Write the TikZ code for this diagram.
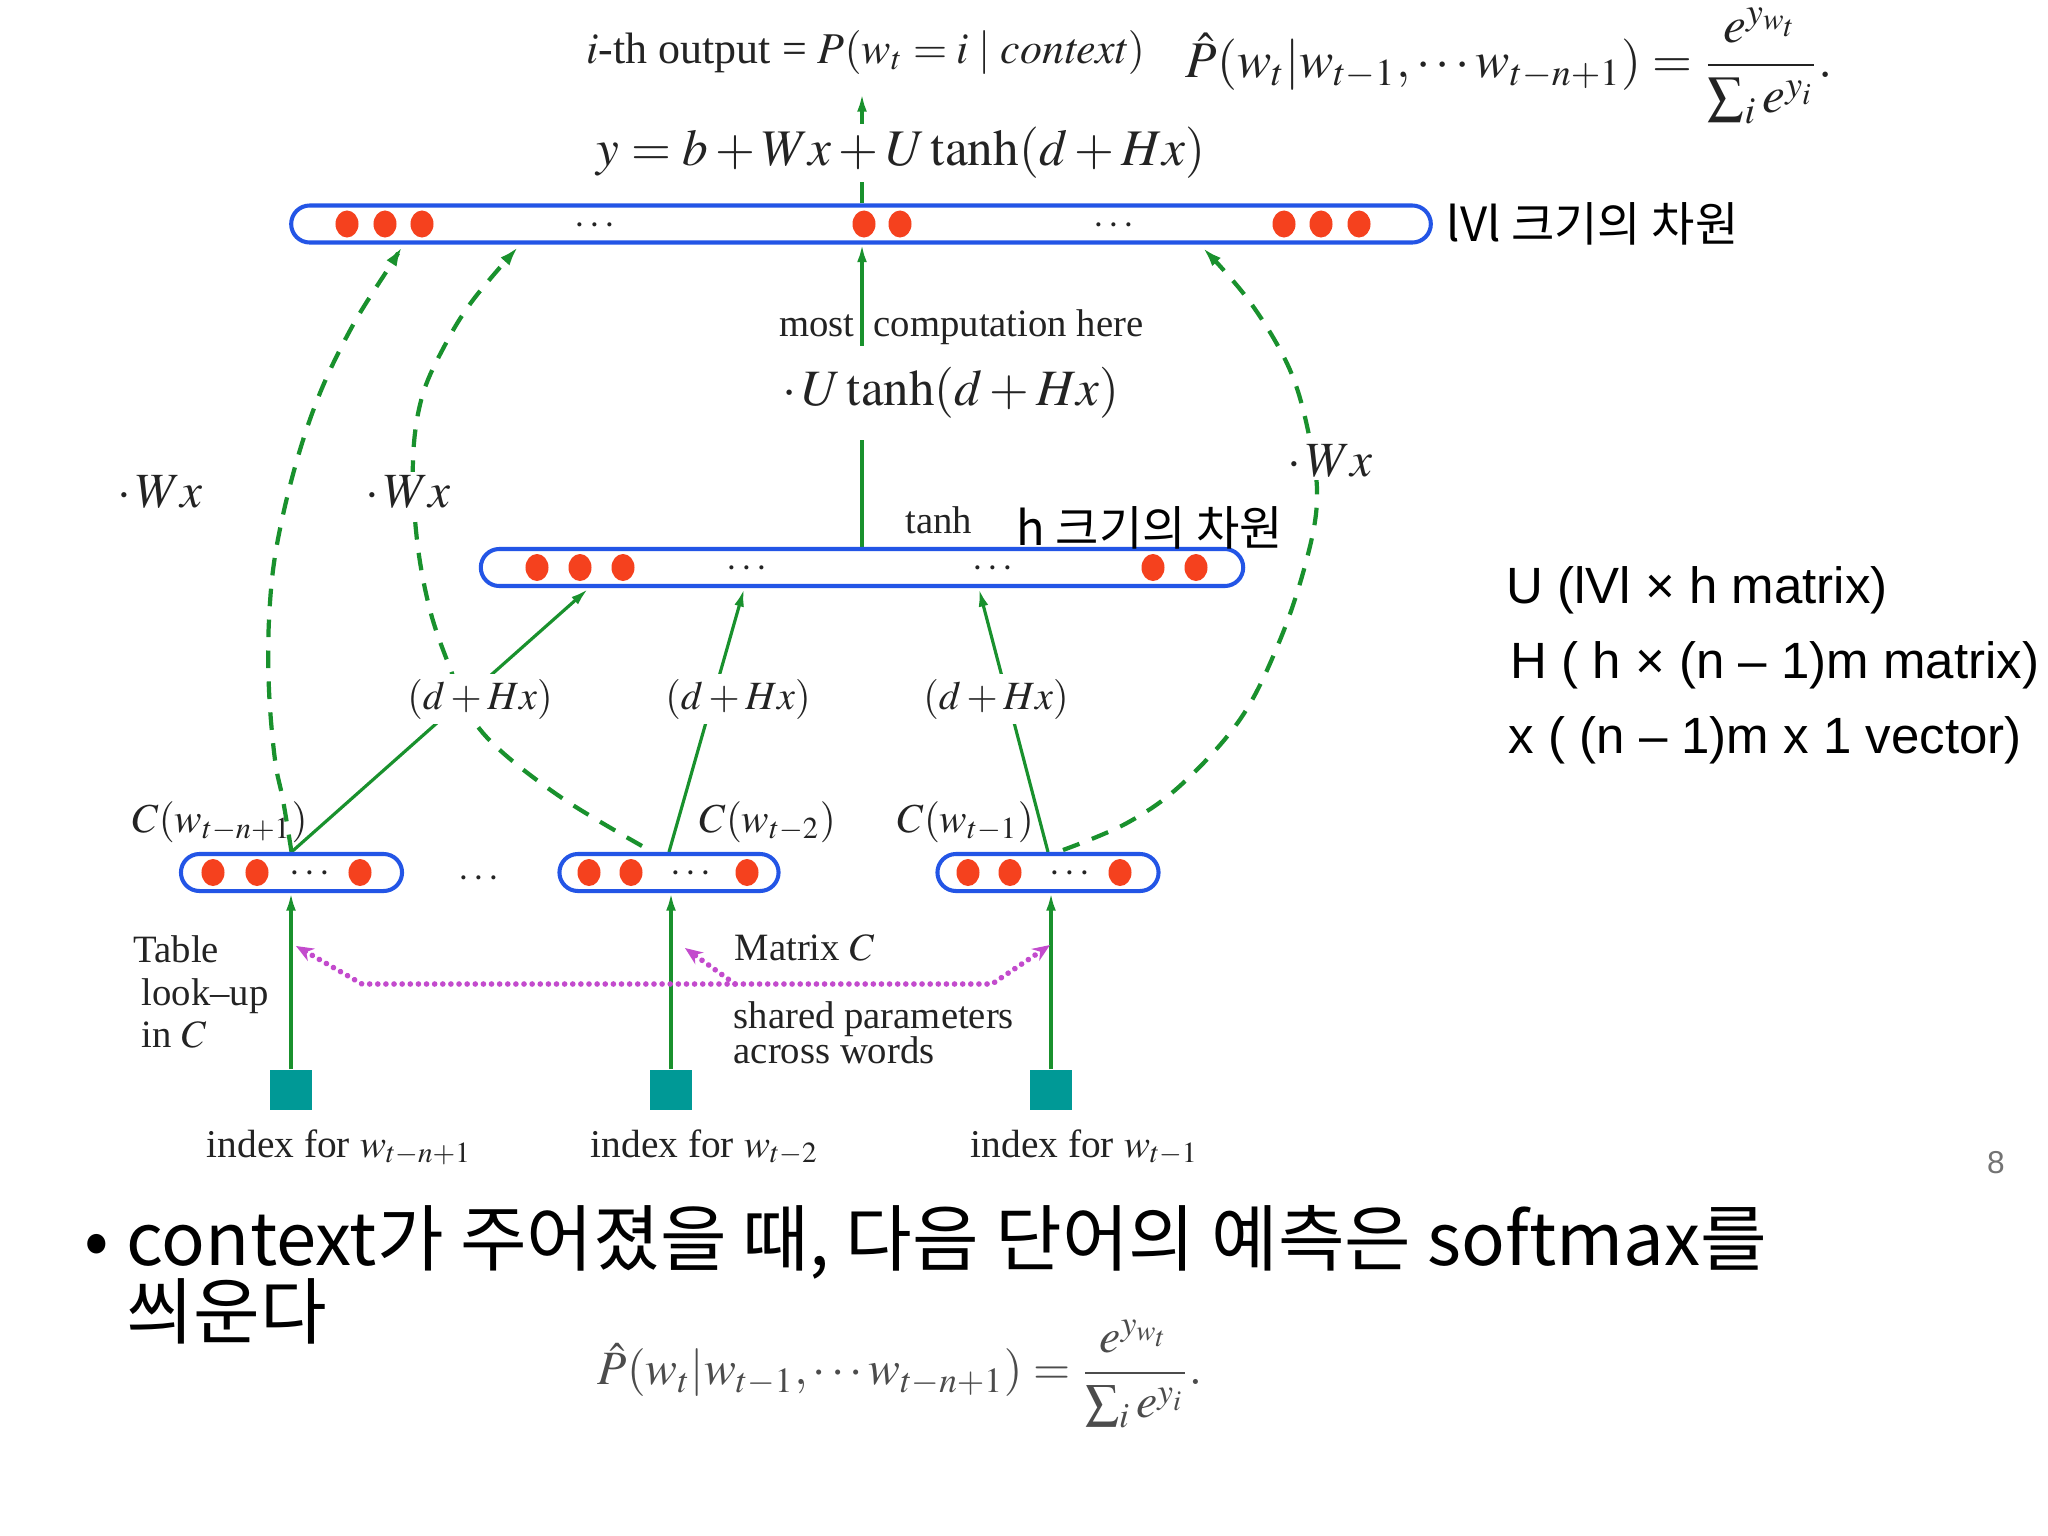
\documentclass[tikz,border=0pt]{standalone}
\usepackage{amsmath}
\usepackage{mathptmx}
\usepackage{fontspec}
\setmainfont{Liberation Serif}
\newfontfamily\krfont{Noto Sans CJK KR}
\newfontfamily\arialfont{Liberation Sans}
\usetikzlibrary{arrows.meta,shapes.geometric}
\pgfdeclarelayer{bg}
\pgfsetlayers{bg,main}
\newcommand{\fsz}[1]{\fontsize{#1}{#1}\selectfont}
\definecolor{barblue}{RGB}{35,85,230}
\definecolor{dotred}{RGB}{245,65,30}
\definecolor{lgreen}{RGB}{25,145,45}
\definecolor{tealsq}{RGB}{0,153,150}
\definecolor{magdot}{RGB}{195,75,205}
\definecolor{txt}{RGB}{35,35,35}
\tikzset{
  barbox/.style={draw=barblue, line width=1.15pt, rounded corners=0.185cm, fill=white, inner sep=0pt, minimum height=0.37cm},
  reddot/.style={ellipse, fill=dotred, inner sep=0pt, minimum width=0.23cm, minimum height=0.27cm},
  cdotsnode/.style={inner sep=0pt, text=txt, font=\fsz{11}},
  idxsq/.style={fill=tealsq, minimum width=0.41cm, minimum height=0.40cm, inner sep=0pt},
  glink/.style={draw=lgreen, line width=0.9pt},
  garrow/.style={glink, -{Latex[length=5pt,width=2.8pt]}},
  gdash/.style={draw=lgreen, line width=1.2pt, dash pattern=on 5pt off 3.8pt, -{Latex[length=5.5pt,width=3.4pt]}},
  magline/.style={draw=magdot, line width=1.6pt, dash pattern=on 0.01pt off 2.3pt, line cap=round},
  serlab/.style={inner sep=0pt, text=txt, font=\fsz{11}},
  idxlab/.style={inner sep=0pt, text=txt, font=\fsz{11.2}},
  clab/.style={inner sep=0pt, text=txt, font=\fsz{11.7}},
  wxlab/.style={inner sep=1pt, fill=white, text=txt, font=\fsz{14}},
  dhlab/.style={inner sep=1.5pt, fill=white, text=txt, font=\fsz{11.4}},
  krlab/.style={inner sep=0pt, text=black, font=\krfont\fsz{13.4}},
  rlab/.style={inner sep=0pt, text=black, font=\arialfont\fsz{14.5}},
}
\begin{document}
\begin{tikzpicture}[x=0.01cm,y=-0.01cm]
\useasboundingbox (0,0) rectangle (2048,1536);
\begin{pgfonlayer}{bg}
\fill[white] (0,0) rectangle (2048,1536);
\end{pgfonlayer}

% ---------- bars ----------
\node[barbox, minimum width=11.39cm] (out) at (861,224) {};
\node[barbox, minimum width=7.62cm] (hid) at (862,567.5) {};
\node[barbox, minimum width=2.21cm] (e1) at (291.5,872.5) {};
\node[barbox, minimum width=2.19cm] (e2) at (669,872.5) {};
\node[barbox, minimum width=2.21cm] (e3) at (1048,872.5) {};

\foreach \x [count=\i] in {347,385,422,864,900,1284,1321,1359}
  \node[reddot] (o\i) at (\x,224) {};
\foreach \x [count=\i] in {537,580,623,1153,1196}
  \node[reddot] (h\i) at (\x,567.5) {};
\foreach \x [count=\i] in {213,257,360}
  \node[reddot] (ea\i) at (\x,872.5) {};
\foreach \x [count=\i] in {589,631,747}
  \node[reddot] (eb\i) at (\x,872.5) {};
\foreach \x [count=\i] in {968,1010,1120}
  \node[reddot] (ec\i) at (\x,872.5) {};

\node[cdotsnode] (od1) at (597,226) {$\cdots$};
\node[cdotsnode] (od2) at (1116,226) {$\cdots$};
\node[cdotsnode] (hd1) at (749,569) {$\cdots$};
\node[cdotsnode] (hd2) at (995,569) {$\cdots$};
\node[cdotsnode] (ed1) at (312,874) {$\cdots$};
\node[cdotsnode] (ed2) at (693,874) {$\cdots$};
\node[cdotsnode] (ed3) at (1072,874) {$\cdots$};
\node[cdotsnode] (edm) at (481,879) {$\cdots$};

% ---------- index squares ----------
\node[idxsq] (s1) at (291,1090) {};
\node[idxsq] (s2) at (671,1090) {};
\node[idxsq] (s3) at (1051,1090) {};

% ---------- coordinates ----------
\coordinate (hA) at (588,589);
\coordinate (hB) at (744,589);
\coordinate (hC) at (979,589);
\coordinate (toptip) at (862,94);
\coordinate (mL) at (296,946);
\coordinate (mM) at (685,948);
\coordinate (mR) at (1050,945);

% ---------- labels ----------
\node[dhlab] (d1) at (480,699) {$(d+Hx)$};
\node[dhlab] (d2) at (738,699) {$(d+Hx)$};
\node[dhlab] (d3) at (996,699) {$(d+Hx)$};

\node[wxlab, anchor=base west] (wx1) at (113,507) {$\cdot\,Wx$};
\node[wxlab, anchor=base west] (wx2) at (361,507) {$\cdot\,Wx$};
\node[wxlab, anchor=base west] (wx3) at (1283,476) {$\cdot\,Wx$};

\node[clab, anchor=base west] (c1) at (132,832) {$C(w_{t-n+1})$};
\node[clab, anchor=base west] (c2) at (699,832) {$C(w_{t-2})$};
\node[clab, anchor=base west] (c3) at (897,832) {$C(w_{t-1})$};

\node[idxlab, anchor=base west] (i1) at (206,1157) {index for $w_{t-n+1}$};
\node[idxlab, anchor=base west] (i2) at (590,1157) {index for $w_{t-2}$};
\node[idxlab, anchor=base west] (i3) at (970,1157) {index for $w_{t-1}$};

\node[serlab, anchor=base west] (tb1) at (133,962) {Table};
\node[serlab, anchor=base west] (tb2) at (141,1005) {look--up};
\node[serlab, anchor=base west] (tb3) at (141,1047) {in $C$};
\node[serlab, anchor=base west] (mc) at (734,960) {Matrix $C$};
\node[serlab, anchor=base west] (sp1) at (733,1028) {shared parameters};
\node[serlab, anchor=base west] (sp2) at (733,1063) {across words};

\node[serlab, anchor=base east] (most) at (855,336) {most};
\node[serlab, anchor=base west] (comp) at (873,336) {computation here};
\node[serlab, anchor=base west] (tanhl) at (905,533) {tanh};

\node[inner xsep=1pt, inner ysep=6pt, fill=white, text=txt, font=\fsz{14.5}] (ut) at (951,393) {$\cdot\,U\tanh(d+Hx)$};
\node[inner xsep=3pt, inner ysep=1pt, fill=white, text=txt, font=\fsz{14.6}] (yeq) at (901,153) {$y=b+Wx+U\tanh(d+Hx)$};

\node[anchor=base west, inner sep=0pt, text=txt, font=\fsz{12.5}] (ith) at (586,63) {$i$-th output = $P(w_t = i \mid \mathit{context})$};
\node[anchor=west, inner sep=0pt, text=txt, font=\fsz{14.6}] (phat) at (1185,66) {$\hat{P}(w_t|w_{t-1},\cdots w_{t-n+1}) = \dfrac{e^{y_{w_t}}}{\sum_i e^{y_i}}.$};

\node[krlab, anchor=base west] (vdim) at (1446,241) {lVl 크기의 차원};
\node[krlab, anchor=base west] (hdim) at (1016,545) {h 크기의 차원};

\node[rlab, anchor=base west] (r1) at (1506,603) {U (lVl × h matrix)};
\node[rlab, anchor=base west] (r2) at (1510,678) {H ( h × (n – 1)m matrix)};
\node[rlab, anchor=base west] (r3) at (1508,753) {x ( (n – 1)m x 1 vector)};

\node[inner sep=0pt, text=black!55, font=\arialfont\fsz{9}] (pg) at (1996,1163) {8};

\node[anchor=base west, inner sep=0pt, font=\krfont\fsz{20.6}] (bul) at (84,1265) {•};
\node[anchor=base west, inner sep=0pt, font=\krfont\fsz{20.6}] (bl1) at (126,1265) {context가 주어졌을 때, 다음 단어의 예측은 softmax를};
\node[anchor=base west, inner sep=0pt, font=\krfont\fsz{20.6}] (bl2) at (126,1338) {씌운다};

\node[inner sep=0pt, text=black!70, font=\fsz{13.6}] (pbot) at (900,1374) {$\hat{P}(w_t|w_{t-1},\cdots w_{t-n+1}) = \dfrac{e^{y_{w_t}}}{\sum_i e^{y_i}}.$};

% ---------- connectors (behind) ----------
\begin{pgfonlayer}{bg}
\draw[garrow] (s1.north) -- (s1.north |- e1.south);
\draw[garrow] (s2.north) -- (s2.north |- e2.south);
\draw[garrow] (s3.north) -- (s3.north |- e3.south);

\draw[garrow] (e1.north) -- (hA);
\draw[garrow] (e2.north) -- (hB);
\draw[garrow] (e3.north) -- (hC);

\draw[garrow] (hid.north) -- (hid.north |- out.south);
\draw[garrow] (hid.north |- out.north) -- (toptip);

\draw[gdash] plot[smooth, tension=0.6] coordinates {(e1.north) (283,800) (275,760) (269,690) (269,620) (276,550) (295,467) (320,393) (353,325) (390,266) (402,247)};
\draw[gdash] plot[smooth, tension=0.6] coordinates {(642,846) (565,800) (502,752) (470,715) (450,668) (430,610) (417,540) (413,460) (422,397) (445,345) (473,300) (518,247)};
\draw[gdash] plot[smooth, tension=0.6] coordinates {(1063,850) (1127,823) (1182,784) (1241,718) (1280,640) (1306,562) (1317,500) (1310,440) (1290,370) (1250,302) (1203,248)};

\draw[magline, {Stealth[length=5pt,width=4pt]}-{Stealth[length=5pt,width=4pt]}] (mL) -- (362,984) -- (992,984) -- (mR);
\draw[magline, -{Stealth[length=5pt,width=4pt]}] (735,984) -- (mM);
\end{pgfonlayer}
\end{tikzpicture}
\end{document}
